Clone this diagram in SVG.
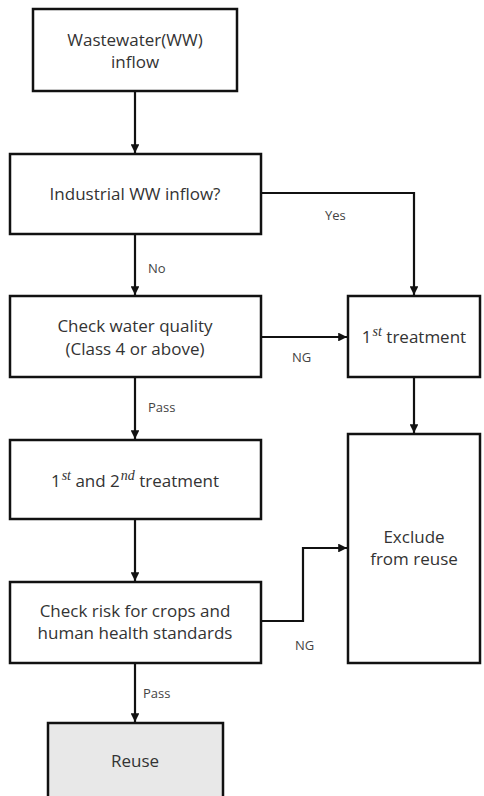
<svg xmlns="http://www.w3.org/2000/svg" width="484" height="796" viewBox="0 0 484 796">
<style>
.box{fill:#fff;stroke:#111;stroke-width:2.5}
.t{font-family:"Open Sans","Liberation Sans",sans-serif;font-size:17px;fill:#333;text-anchor:middle}
.l{font-family:"Open Sans","Liberation Sans",sans-serif;font-size:13px;fill:#444}
.c{fill:none;stroke:#111;stroke-width:2.2}
.s{font-family:"Liberation Serif",serif;font-style:italic;font-size:14px}
</style>
<defs>
<marker id="a" viewBox="0 0 10 10" refX="10" refY="5" markerWidth="4" markerHeight="4" orient="auto" markerUnits="strokeWidth">
<path d="M0,0 L10,5 L0,10 z" fill="#111"/>
</marker>
</defs>
<rect width="484" height="796" fill="#fff"/>
<g id="connectors">
<path class="c" d="M135,91 V153" marker-end="url(#a)"/>
<path class="c" d="M261,193 H414 V295" marker-end="url(#a)"/>
<path class="c" d="M135,234 V295" marker-end="url(#a)"/>
<path class="c" d="M261,337 H347" marker-end="url(#a)"/>
<path class="c" d="M135,377 V439" marker-end="url(#a)"/>
<path class="c" d="M414,377 V433" marker-end="url(#a)"/>
<path class="c" d="M135,519 V581" marker-end="url(#a)"/>
<path class="c" d="M261,621 H303 V548 H347" marker-end="url(#a)"/>
<path class="c" d="M135,663 V722" marker-end="url(#a)"/>
<text class="l" x="325" y="220">Yes</text>
<text class="l" x="148" y="273">No</text>
<text class="l" x="292" y="362">NG</text>
<text class="l" x="148" y="412">Pass</text>
<text class="l" x="295" y="650">NG</text>
<text class="l" x="143" y="698">Pass</text>
</g>
<g id="n1">
<rect class="box" x="33" y="9" width="204" height="82"/>
<text class="t" x="135" y="46">Wastewater(WW)</text>
<text class="t" x="135" y="68">inflow</text>
</g>
<g id="n2">
<rect class="box" x="10" y="154" width="251" height="80"/>
<text class="t" x="135" y="200">Industrial WW inflow?</text>
</g>
<g id="n3">
<rect class="box" x="10" y="296" width="251" height="81"/>
<text class="t" x="135" y="332">Check water quality</text>
<text class="t" x="135" y="355">(Class 4 or above)</text>
</g>
<g id="n4">
<rect class="box" x="348" y="296" width="132" height="81"/>
<text class="t" x="414" y="343">1<tspan class="s" dx="1" dy="-7">st</tspan><tspan dy="7">  treatment</tspan></text>
</g>
<g id="n5">
<rect class="box" x="10" y="440" width="251" height="79"/>
<text class="t" x="135" y="487">1<tspan class="s" dx="1" dy="-7">st</tspan><tspan dy="7">  and 2</tspan><tspan class="s" dx="1" dy="-7">nd</tspan><tspan dy="7">  treatment</tspan></text>
</g>
<g id="n6">
<rect class="box" x="348" y="434" width="132" height="229"/>
<text class="t" x="414" y="543">Exclude</text>
<text class="t" x="414" y="565">from reuse</text>
</g>
<g id="n7">
<rect class="box" x="10" y="582" width="251" height="81"/>
<text class="t" x="135" y="617">Check risk for crops and</text>
<text class="t" x="135" y="639">human health standards</text>
</g>
<g id="n8">
<rect class="box" x="48" y="723" width="175" height="90" style="fill:#e8e8e8"/>
<text class="t" x="135" y="767">Reuse</text>
</g>
</svg>
